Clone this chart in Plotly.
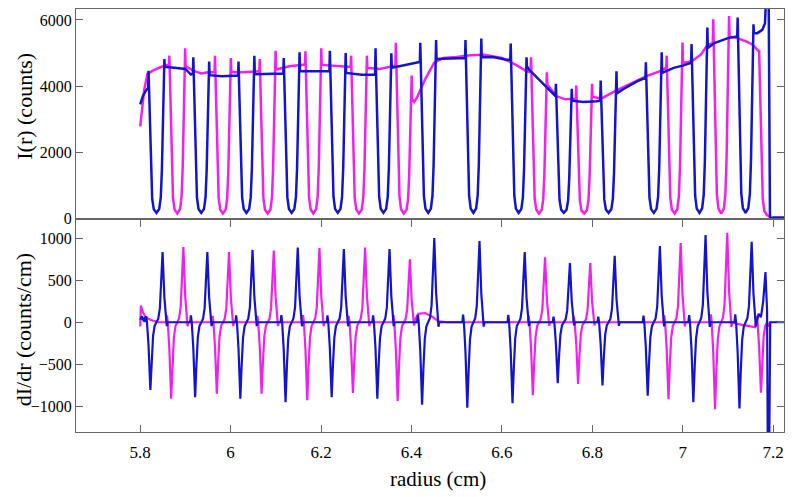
import plotly.graph_objects as go
from plotly.subplots import make_subplots

# ---------------- data ----------------
# Blue dips: centre (cm), baseline before, left arm peak, floor, right arm peak, baseline after (counts)
BLUE_C   = [5.836, 5.935, 6.035, 6.135, 6.237, 6.338, 6.437, 6.537, 6.637, 6.737, 6.836, 6.936, 7.037, 7.139]
BLUE_BL  = [3950, 4380, 4320, 4380, 4460, 4340, 4720, 4850, 4800, 3700, 3560, 4250, 4700, 5500]
BLUE_AL  = [4460, 4870, 4740, 4850, 5070, 5140, 5310, 5390, 5290, 4070, 4170, 4720, 5270, 6070]
BLUE_FL  = [170, 170, 170, 170, 170, 170, 170, 170, 170, 170, 170, 170, 170, 170]
BLUE_AR  = [4820, 4740, 4920, 5020, 5000, 4990, 5390, 5440, 4870, 3920, 4450, 5020, 5770, 5870]
BLUE_BR  = [4580, 4330, 4360, 4450, 4400, 4560, 4820, 4870, 4600, 3560, 3780, 4400, 5150, 5600]
# blue derivative peaks (counts/cm)
BLUE_NEG = [-807, -896, -913, -955, -896, -913, -984, -1019, -966, -729, -754, -878, -955, -1030]
BLUE_POS = [839, 839, 863, 891, 874, 874, 1004, 969, 839, 707, 792, 909, 1040, 960]
# blue baseline between dips
BLUE_BASE_R = [5.800, 5.806, 5.812, 5.870, 5.900, 5.912, 5.980, 6.090, 6.190, 6.290, 6.360, 6.415,
               6.480, 6.500, 6.580, 6.610, 6.660, 6.690, 6.715, 6.780, 6.810, 6.870, 6.900,
               6.980, 7.000, 7.015, 7.070, 7.100, 7.165, 7.176, 7.182, 7.185, 7.190, 7.193, 7.200, 7.250]
BLUE_BASE_I = [3450, 3700, 3850, 4560, 4520, 4350, 4300, 4380, 4450, 4340, 4560, 4720,
               4830, 4860, 4880, 4800, 4500, 4100, 3750, 3520, 3540, 3920, 4150,
               4550, 4620, 4680, 5300, 5450, 5600, 5700, 5900, 6900, 6900, 0, 30, 30]
BLUE_DBASE_R = [5.800, 5.804, 5.808, 5.811, 7.168, 7.173, 7.178, 7.183, 7.1865, 7.188, 7.1915, 7.1935, 7.250]
BLUE_DBASE_V = [30, 70, 10, 60, 100, 60, 250, 600, 150, -1400, -1400, 0, 0]

# Magenta dips
MAG_C   = [5.882, 5.983, 6.082, 6.183, 6.284, 6.383, 6.682, 6.782, 6.982, 7.085]
MAG_BL  = [4650, 4420, 4450, 4650, 4580, 4620, 4420, 3620, 4560, 5300]
MAG_AL  = [4920, 4920, 4820, 5050, 4920, 5310, 4870, 4020, 4920, 6020]
MAG_FL  = [150, 150, 150, 150, 150, 150, 150, 150, 150, 150]
MAG_AR  = [5140, 4850, 5070, 5140, 4920, 4320, 4420, 4070, 5320, 6120]
MAG_BR  = [4600, 4420, 4500, 4640, 4550, 3600, 4050, 3680, 4700, 5500]
MAG_NEG = [-913, -853, -853, -931, -843, -941, -870, -736, -920, -1037]
MAG_POS = [898, 839, 856, 884, 891, 750, 775, 707, 945, 1068]
# magenta final edge (only the falling half)
MAG_END_C, MAG_END_BL, MAG_END_AL, MAG_END_FL, MAG_END_NEG = 7.1865, 5050, 5100, 100, -840
MAG_BASE_R = [5.800, 5.803, 5.809, 5.816, 5.830, 5.850, 5.920, 5.935, 5.950, 6.030, 6.130, 6.230, 6.330,
              6.406, 6.412, 6.430, 6.450, 6.470, 6.500, 6.530, 6.560, 6.600, 6.630, 6.655,
              6.720, 6.740, 6.820, 6.850, 6.880, 6.920, 6.950, 7.020, 7.040, 7.055,
              7.120, 7.140, 7.155, 7.190, 7.195]
MAG_BASE_I = [2780, 3100, 3900, 4370, 4480, 4600, 4450, 4380, 4420, 4420, 4600, 4620, 4520,
              3520, 3650, 4200, 4700, 4850, 4880, 4930, 4950, 4850, 4650, 4450,
              3700, 3600, 3620, 3850, 4050, 4300, 4450, 4750, 4950, 5250,
              5450, 5350, 5250, 80, 60]
MAG_DBASE_R = [5.800, 5.8015, 5.806, 5.812, 5.822, 5.840, 6.409, 6.415, 6.430, 6.445, 6.460, 6.480,
               7.120, 7.150, 7.160, 7.190, 7.195]
MAG_DBASE_V = [-50, 200, 120, 60, 30, 0, 40, 100, 110, 70, 10, 0,
               -20, -50, -60, -40, -30]

X_TICKS = [5.8, 6.0, 6.2, 6.4, 6.6, 6.8, 7.0, 7.2]
X_TICK_TEXT = ["5.8", "6", "6.2", "6.4", "6.6", "6.8", "7", "7.2"]
Y1_TICKS = [0, 2000, 4000, 6000]
Y2_TICKS = [-1000, -500, 0, 500, 1000]

# ---------------- shape templates (style of a single dip) ----------------
ARM_DR, BASE_DR = 0.0175, 0.0185
WALL = [(0.016, 0.82), (0.014, 0.55), (0.012, 0.28), (0.0095, 0.10), (0.006, 0.025)]
SPIKE = [(0.021, 0.0), (0.0175, 0.35), (0.0135, 1.0), (0.0105, 0.55), (0.0075, 0.2), (0.004, 0.05)]
BUMP_DR, BUMP_END, BUMP_F = 0.0228, 0.0245, 0.09


def dip_points(c, bl, al, fl, ar, br, half=False):
    xs = [c - BASE_DR, c - ARM_DR]
    ys = [bl, al]
    for dr, f in WALL:
        xs.append(c - dr); ys.append(fl + f * (al - fl))
    xs.append(c); ys.append(fl)
    if half:
        return xs, ys
    for dr, f in reversed(WALL):
        xs.append(c + dr); ys.append(fl + f * (ar - fl))
    xs += [c + ARM_DR, c + BASE_DR]
    ys += [ar, br]
    return xs, ys


def deriv_points(c, neg, pos, half=False):
    xs = [c - BUMP_END, c - BUMP_DR]
    ys = [0, -neg * BUMP_F]
    for dr, f in SPIKE:
        xs.append(c - dr); ys.append(neg * f)
    xs.append(c); ys.append(0)
    if half:
        return xs, ys
    for dr, f in reversed(SPIKE):
        xs.append(c + dr); ys.append(pos * f)
    xs += [c + BUMP_DR, c + BUMP_END]
    ys += [-pos * BUMP_F * 0.6, 0]
    return xs, ys


def assemble(base_r, base_v, pieces):
    pts = list(zip(base_r, base_v))
    for xs, ys in pieces:
        pts += list(zip(xs, ys))
    pts.sort(key=lambda p: p[0])
    return [p[0] for p in pts], [p[1] for p in pts]


blue_top = assemble(BLUE_BASE_R, BLUE_BASE_I,
                    [dip_points(*a) for a in zip(BLUE_C, BLUE_BL, BLUE_AL, BLUE_FL, BLUE_AR, BLUE_BR)])
mag_top = assemble(MAG_BASE_R, MAG_BASE_I,
                   [dip_points(*a) for a in zip(MAG_C, MAG_BL, MAG_AL, MAG_FL, MAG_AR, MAG_BR)]
                   + [dip_points(MAG_END_C, MAG_END_BL, MAG_END_AL, MAG_END_FL, 0, 0, half=True)])
blue_der = assemble(BLUE_DBASE_R, BLUE_DBASE_V,
                    [deriv_points(*a) for a in zip(BLUE_C, BLUE_NEG, BLUE_POS)])
mag_der = assemble(MAG_DBASE_R, MAG_DBASE_V,
                   [deriv_points(*a) for a in zip(MAG_C, MAG_NEG, MAG_POS)]
                   + [deriv_points(MAG_END_C, MAG_END_NEG, 0, half=True)])

BLUE = "#1414cc"
MAGENTA = "#f020f0"
LW_TOP, LW_BOT = 2.5, 2.2

# plot area in px
PL, PR, PT, PB = 68, 776, 0, 424
TOP_H = 210  # height of the upper panel

fig = make_subplots(rows=2, cols=1, shared_xaxes=True, vertical_spacing=0,
                    row_heights=[TOP_H / (PB - PT), 1 - TOP_H / (PB - PT)])
fig.add_trace(go.Scatter(x=mag_top[0], y=mag_top[1], mode="lines",
                         line=dict(color=MAGENTA, width=LW_TOP)), row=1, col=1)
fig.add_trace(go.Scatter(x=blue_top[0], y=blue_top[1], mode="lines",
                         line=dict(color=BLUE, width=LW_TOP)), row=1, col=1)
fig.add_trace(go.Scatter(x=mag_der[0], y=mag_der[1], mode="lines",
                         line=dict(color=MAGENTA, width=LW_BOT)), row=2, col=1)
fig.add_trace(go.Scatter(x=blue_der[0], y=blue_der[1], mode="lines",
                         line=dict(color=BLUE, width=LW_BOT)), row=2, col=1)

FONT = "Liberation Serif"
TICK_FONT = dict(family=FONT, size=16, color="black")
XTICK_FONT = dict(family=FONT, size=17, color="black")
YTITLE_FONT = dict(family=FONT, size=22, color="black")
XTITLE_FONT = dict(family=FONT, size=21, color="black")
axis_common = dict(showline=True, linecolor="#666666", linewidth=1, showgrid=False,
                   zeroline=False, tickcolor="#666666", ticklen=7)

fig.update_xaxes(range=[5.658, 7.224], tickvals=X_TICKS, ticktext=X_TICK_TEXT,
                 tickfont=XTICK_FONT, **axis_common)
fig.update_xaxes(ticks="outside", mirror=True, showticklabels=False, row=1, col=1)
fig.update_xaxes(ticks="inside", mirror=True, ticklabelstandoff=5, row=2, col=1)
fig.update_yaxes(ticks="inside", mirror="ticks", tickfont=TICK_FONT, **axis_common)
fig.update_yaxes(range=[0, 6330], tickvals=Y1_TICKS, row=1, col=1)
fig.update_yaxes(range=[-1310, 1238], tickvals=Y2_TICKS, row=2, col=1)


def px_x(px):
    return (px - PL) / (PR - PL)


def px_y(py):
    return (PB - py) / (PB - PT)


fig.add_annotation(text="I(r) (counts)", xref="paper", yref="paper", x=px_x(17), y=px_y(98),
                   textangle=-90, showarrow=False, font=YTITLE_FONT, xanchor="center", yanchor="middle")
fig.add_annotation(text="dI/dr (counts/cm)", xref="paper", yref="paper", x=px_x(15), y=px_y(322),
                   textangle=-90, showarrow=False, font=YTITLE_FONT, xanchor="center", yanchor="middle")
fig.add_annotation(text="radius (cm)", xref="paper", yref="paper", x=px_x(430), y=px_y(471),
                   showarrow=False, font=XTITLE_FONT, xanchor="center", yanchor="middle")

fig.update_layout(width=800, height=497, margin=dict(l=PL, r=800 - PR, t=PT + 1, b=497 - PB),
                  plot_bgcolor="white", paper_bgcolor="white", showlegend=False)

fig.write_html("out.html")
